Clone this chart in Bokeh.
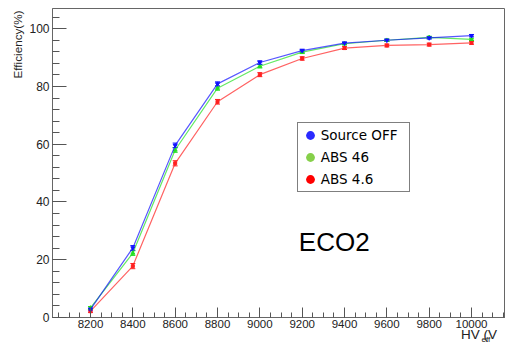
import math
from bokeh.plotting import figure
from bokeh.models import (ColumnDataSource, Whisker, TeeHead, Legend, LegendItem,
                          Label, Title, SingleIntervalTicker, Range1d)
from bokeh.embed import file_html
from bokeh.resources import INLINE

# ---- data ----
hv = [8200, 8400, 8600, 8800, 9000, 9200, 9400, 9600, 9800, 10000]
source_off = [2.8, 24.1, 59.6, 80.9, 88.3, 92.4, 95.0, 96.0, 96.8, 97.6]
source_off_err = [0.5, 0.8, 0.8, 0.7, 0.6, 0.5, 0.4, 0.4, 0.4, 0.4]
abs_46 = [3.3, 22.3, 58.0, 79.4, 87.0, 91.9, 94.8, 96.0, 97.0, 96.3]
abs_46_err = [0.5, 0.8, 0.8, 0.7, 0.6, 0.5, 0.4, 0.4, 0.4, 0.4]
abs_4_6 = [2.2, 17.8, 53.4, 74.7, 84.1, 89.7, 93.3, 94.2, 94.5, 95.1]
abs_4_6_err = [0.5, 0.9, 0.9, 0.8, 0.7, 0.6, 0.5, 0.5, 0.5, 0.5]

series_names = ["ABS 4.6", "ABS 46", "Source OFF"]
legend_order = ["Source OFF", "ABS 46", "ABS 4.6"]
x_tick_interval = 200
y_tick_interval = 20

FONT = "Liberation Sans"

p = figure(width=505, height=345, output_backend="svg", toolbar_location=None,
           x_range=Range1d(8020.5, 10160.5), y_range=Range1d(0, 107.0),
           min_border_left=52, min_border_right=0, min_border_top=8, min_border_bottom=28,
           background_fill_color="white", border_fill_color="white")
p.outline_line_color = "#666666"
p.outline_line_width = 1
p.xgrid.visible = False
p.ygrid.visible = False

# axes
p.xaxis.ticker = SingleIntervalTicker(interval=x_tick_interval, num_minor_ticks=4)
p.yaxis.ticker = SingleIntervalTicker(interval=y_tick_interval, num_minor_ticks=5)
for ax in (p.xaxis[0], p.yaxis[0]):
    ax.axis_line_color = "#666666"
    ax.major_tick_line_color = "#555555"
    ax.minor_tick_line_color = "#555555"
    ax.major_tick_out = 0
    ax.minor_tick_out = 0
    ax.major_label_text_font = FONT
    ax.major_label_text_color = "#222222"
p.xaxis.major_tick_in = 10
p.xaxis.minor_tick_in = 5
p.yaxis.major_tick_in = 14
p.yaxis.minor_tick_in = 7
p.xaxis.major_label_text_font_size = "11.5px"
p.yaxis.major_label_text_font_size = "12px"
p.xaxis.major_label_standoff = 2
p.yaxis.major_label_standoff = 3

styles = {
    "Source OFF": dict(y=source_off, e=source_off_err, line="#1010ff", marker="inverted_triangle", msize=4, leg="#2a2aff"),
    "ABS 46": dict(y=abs_46, e=abs_46_err, line="#22e022", marker="triangle", msize=4, leg="#86d04a"),
    "ABS 4.6": dict(y=abs_4_6, e=abs_4_6_err, line="#ff2020", marker="square", msize=3, leg="#ff0000"),
}

sources = {}
for name in series_names:
    s = styles[name]
    src = ColumnDataSource(dict(x=hv, y=s["y"],
                                upper=[v + e for v, e in zip(s["y"], s["e"])],
                                lower=[v - e for v, e in zip(s["y"], s["e"])]))
    sources[name] = src
    p.line("x", "y", source=src, line_color=s["line"], line_width=1.2, line_alpha=0.7)
    w = Whisker(base="x", upper="upper", lower="lower", source=src,
                line_color=s["line"], line_width=1,
                upper_head=TeeHead(size=5, line_color=s["line"], line_width=1),
                lower_head=TeeHead(size=5, line_color=s["line"], line_width=1))
    p.add_layout(w)
    p.scatter("x", "y", source=src, marker=s["marker"], size=s["msize"],
              fill_color=s["line"], line_color=s["line"])

# legend (circle swatches; size 0 on the plot, legend swatch sized by the legend box)
items = []
for name in legend_order:
    s = styles[name]
    r = p.scatter("x", "y", source=sources[name], marker="circle", size=0,
                  fill_color=s["leg"], line_color=None)
    items.append(LegendItem(label=name, renderers=[r]))

legend = Legend(items=items, location=(244.7, 125.3))
legend.padding = 1
legend.spacing = -5
legend.glyph_width = 22
legend.glyph_height = 22
legend.label_standoff = 0
legend.label_width = 87
legend.label_text_font = "DejaVu Sans"
legend.label_text_font_size = "13.5px"
legend.label_text_color = "black"
legend.border_line_color = "black"
legend.border_line_width = 1
legend.background_fill_color = "white"
legend.background_fill_alpha = 1.0
legend.margin = 0
p.add_layout(legend)

# x-axis title: "HV" + subscript "eff" + " (V", right-aligned at the frame end
p.add_layout(Title(text="HV   (V", align="right", offset=1, standoff=-9.8,
                   text_font=FONT, text_font_size="13.5px", text_font_style="normal",
                   text_color="#222222"), "below")
p.add_layout(Title(text="eff", align="right", offset=15.2, standoff=-9,
                   text_font=FONT, text_font_size="8px", text_font_style="normal",
                   text_color="#222222"), "below")

# y-axis title at the top of the left side
p.add_layout(Title(text="Efficiency(%)", align="right", offset=2, standoff=5,
                   text_font=FONT, text_font_size="11.7px", text_font_style="normal",
                   text_color="#222222"), "left")

p.add_layout(Label(x=246.3, y=76, x_units="screen", y_units="screen", text="ECO2",
                   text_font=FONT, text_font_size="26px", text_color="black",
                   text_baseline="alphabetic", text_align="left"))

open("out.html", "w").write(file_html(p, INLINE))
